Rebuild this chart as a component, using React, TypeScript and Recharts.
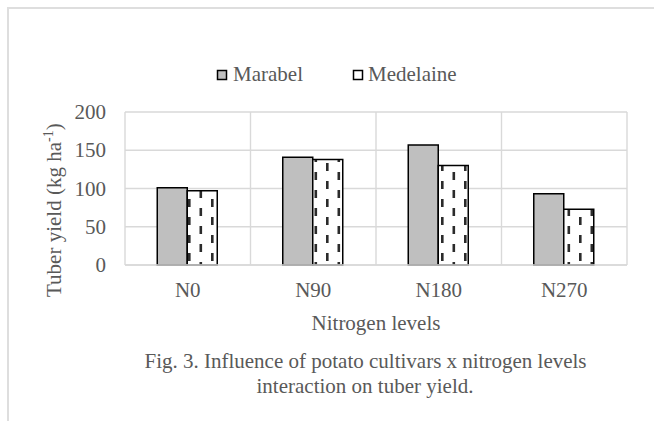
import React from 'react';
import { BarChart, Bar, XAxis, YAxis, CartesianGrid, Legend, Label } from 'recharts';

const categories = ['N0', 'N90', 'N180', 'N270'];
const marabel = [101, 141, 157, 93];
const medelaine = [97, 138, 130, 73];
const yTicks = [0, 50, 100, 150, 200];
const seriesNames = ['Marabel', 'Medelaine'];
const captionLines = [
  'Fig. 3. Influence of potato cultivars x nitrogen levels',
  'interaction on tuber yield.',
];

const data = categories.map((c, i) => ({ name: c, Marabel: marabel[i], Medelaine: medelaine[i] }));

const FONT = '"Liberation Serif", "Times New Roman", serif';
const TEXT = '#595959';
const GRID = '#d9d9d9';
const txtStyle: React.CSSProperties = { fontFamily: FONT, fontSize: 21, fill: TEXT };

const XTick = ({ x, y, payload }: any) => (
  <text x={x} y={y + 14} textAnchor="middle" style={txtStyle}>
    {payload.value}
  </text>
);

const YTick = ({ x, y, payload }: any) => (
  <text x={x} y={y + 7} textAnchor="end" style={txtStyle}>
    {payload.value}
  </text>
);

const LegendContent = () => (
  <svg width={300} height={30} style={{ display: 'block' }}>
    <rect x={17.5} y={10.5} width={9} height={9} fill="#bfbfbf" stroke="#000" strokeWidth={1.5} />
    <text x={33} y={21} style={txtStyle}>{seriesNames[0]}</text>
    <rect x={153.5} y={10.5} width={9} height={9} fill="#fff" stroke="#000" strokeWidth={1.5} />
    <text x={168} y={21} style={txtStyle}>{seriesNames[1]}</text>
  </svg>
);

export default function App() {
  return (
    <div style={{ position: 'fixed', left: 0, top: 0, width: 654, height: 421, background: '#fff', overflow: 'hidden', fontFamily: FONT }}>
      <div
        style={{
          position: 'absolute',
          left: 7,
          top: 7,
          width: 700,
          height: 500,
          borderTop: '2px solid #dedede',
          borderLeft: '2px solid #dedede',
        }}
      />
      <div style={{ position: 'absolute', left: 0, top: 0 }}>
        <BarChart
          width={654}
          height={421}
          data={data}
          margin={{ top: 112, right: 27, bottom: 126, left: 65 }}
          barCategoryGap="25.7%"
          barGap={0}
          style={{ fontFamily: FONT }}
        >
          <defs>
            <pattern id="dashV" patternUnits="userSpaceOnUse" width={23} height={18}>
              <rect width={23} height={18} fill="#fff" />
              <rect x={4} y={1} width={2.6} height={8} fill="#2b2b2b" />
              <rect x={15.5} y={10} width={2.6} height={8} fill="#2b2b2b" />
            </pattern>
          </defs>
          <CartesianGrid
            stroke={GRID}
            strokeWidth={1.4}
            horizontal={true}
            vertical={true}
            verticalCoordinatesGenerator={({ offset }: any) =>
              [0, 1, 2, 3, 4].map((i) => offset.left + (i * offset.width) / categories.length)
            }
          />
          <XAxis
            dataKey="name"
            height={30}
            tickLine={false}
            tickSize={0}
            tickMargin={18}
            axisLine={{ stroke: GRID, strokeWidth: 1.4 }}
            tick={<XTick />}
          >
            <Label
              content={({ viewBox }: any) => (
                <text x={viewBox.x + viewBox.width / 2} y={330} textAnchor="middle" style={txtStyle}>
                  Nitrogen levels
                </text>
              )}
            />
          </XAxis>
          <YAxis
            width={60}
            domain={[0, 200]}
            ticks={yTicks}
            axisLine={false}
            tickLine={false}
            tickSize={0}
            tickMargin={19}
            tick={<YTick />}
          >
            <Label
              content={() => {
                const y = 297;
                return (
                  <text x={61} y={y} transform={`rotate(-90, 61, ${y})`} textAnchor="start" style={txtStyle}>
                    Tuber yield (kg ha
                    <tspan style={{ fontSize: 14 }} dy={-8}>-1</tspan>
                    <tspan dy={8}>)</tspan>
                  </text>
                );
              }}
            />
          </YAxis>
          <Legend
            layout="horizontal"
            verticalAlign="middle"
            align="center"
            content={() => <LegendContent />}
            wrapperStyle={{ position: 'absolute', left: 200, top: 60, width: 300, height: 30 }}
          />
          <Bar dataKey="Marabel" fill="#bfbfbf" stroke="#000" strokeWidth={1.5} isAnimationActive={false} />
          <Bar dataKey="Medelaine" fill="url(#dashV)" stroke="#000" strokeWidth={1.5} isAnimationActive={false} />
        </BarChart>
      </div>
      <svg width={654} height={421} style={{ position: 'absolute', left: 0, top: 0, pointerEvents: 'none' }}>
        <text x={365.5} y={368} textAnchor="middle" style={txtStyle}>
          {captionLines[0]}
        </text>
        <text x={365} y={393} textAnchor="middle" style={txtStyle}>
          {captionLines[1]}
        </text>
      </svg>
    </div>
  );
}
